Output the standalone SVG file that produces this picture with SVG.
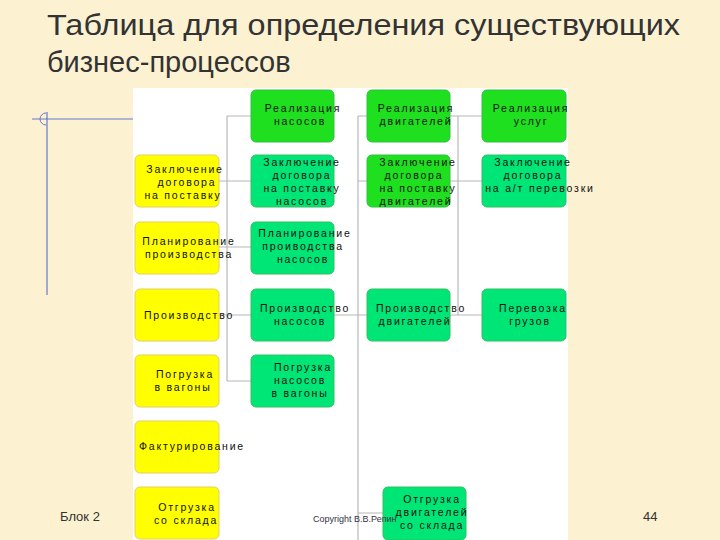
<svg xmlns="http://www.w3.org/2000/svg" width="720" height="540" viewBox="0 0 720 540">
<style>
text{font-family:"Liberation Sans",Arial,sans-serif}
.t{font-size:10.5px;letter-spacing:1.8px;fill:#111;text-anchor:middle}
.y{fill:#ffff00;stroke:#e0d060;stroke-width:1}
.g{fill:#00e676;stroke:#30c060;stroke-width:1}
.b{fill:#1ee01e;stroke:#30c040;stroke-width:1}
.c{stroke:#b8b8b8;stroke-width:1.2;fill:none}
</style>
<rect width="720" height="540" fill="#fcf2d2"/>
<text x="47" y="35" font-size="29" fill="#333" textLength="633" lengthAdjust="spacingAndGlyphs">Таблица для определения существующих</text>
<text x="47" y="72" font-size="29" fill="#333">бизнес-процессов</text>
<line x1="32" y1="119" x2="133" y2="119" stroke="#6677cc" stroke-width="1.2"/>
<line x1="47" y1="112" x2="47" y2="295" stroke="#6677cc" stroke-width="1.2"/>
<path d="M46,113 A6,6 0 0 0 46,125" fill="none" stroke="#6677cc"/>
<rect x="133" y="88" width="435" height="452" fill="#ffffff"/>
<g id="connectors" class="c">
<path d="M227,116 V381 M219,181 H251 M227,116 H251 M219,247 H251 M219,315 H251 M227,381 H251"/>
<path d="M358,116 V540 M358,116 H367 M358,181 H367 M334,315 H367 M358,513 H383"/>
<path d="M458,116 V315 M450,116 H482 M450,181 H482 M450,315 H482"/>
</g>
<g id="y1"><rect class="y" x="135" y="155" width="84" height="52" rx="5"/><text class="t" x="185" y="173">Заключение<tspan x="187" dy="13">договора</tspan><tspan x="183" dy="13">на поставку</tspan></text></g>
<g id="y2"><rect class="y" x="135" y="222" width="84" height="52" rx="5"/><text class="t" x="189" y="245">Планирование<tspan x="189" dy="13">производства</tspan></text></g>
<g id="y3"><rect class="y" x="135" y="289" width="84" height="52" rx="5"/><text class="t" x="189" y="319">Производство</text></g>
<g id="y4"><rect class="y" x="135" y="355" width="84" height="52" rx="5"/><text class="t" x="185" y="378">Погрузка<tspan x="183" dy="13">в вагоны</tspan></text></g>
<g id="y5"><rect class="y" x="135" y="421" width="84" height="52" rx="5"/><text class="t" x="192" y="450">Фактурирование</text></g>
<g id="y6"><rect class="y" x="135" y="487" width="84" height="52" rx="5"/><text class="t" x="187" y="511">Отгрузка<tspan x="186" dy="13">со склада</tspan></text></g>
<g id="g11"><rect class="b" x="251" y="90" width="83" height="52" rx="5"/><text class="t" x="303" y="112">Реализация<tspan x="300" dy="13">насосов</tspan></text></g>
<g id="g12"><rect class="b" x="367" y="90" width="83" height="52" rx="5"/><text class="t" x="416" y="112">Реализация<tspan x="416" dy="13">двигателей</tspan></text></g>
<g id="g13"><rect class="b" x="482" y="90" width="84" height="52" rx="5"/><text class="t" x="531" y="112">Реализация<tspan x="531" dy="13">услуг</tspan></text></g>
<g id="g21"><rect class="g" x="251" y="155" width="83" height="52" rx="5"/><text class="t" x="302" y="166">Заключение<tspan x="302" dy="13">договора</tspan><tspan x="302" dy="13">на поставку</tspan><tspan x="302" dy="13">насосов</tspan></text></g>
<g id="g22"><rect class="b" x="367" y="155" width="83" height="52" rx="5"/><text class="t" x="418" y="166">Заключение<tspan x="414" dy="13">договора</tspan><tspan x="418" dy="13">на поставку</tspan><tspan x="416" dy="13">двигателей</tspan></text></g>
<g id="g23"><rect class="g" x="482" y="155" width="84" height="52" rx="5"/><text class="t" x="533" y="166">Заключение<tspan x="533" dy="13">договора</tspan><tspan x="540" dy="13">на а/т перевозки</tspan></text></g>
<g id="g31"><rect class="g" x="251" y="222" width="83" height="52" rx="5"/><text class="t" x="305" y="237">Планирование<tspan x="303" dy="13">проиводства</tspan><tspan x="303" dy="13">насосов</tspan></text></g>
<g id="g41"><rect class="g" x="251" y="289" width="83" height="52" rx="5"/><text class="t" x="305" y="312">Производство<tspan x="300" dy="13">насосов</tspan></text></g>
<g id="g42"><rect class="g" x="367" y="289" width="83" height="52" rx="5"/><text class="t" x="421" y="312">Производство<tspan x="415" dy="13">двигателей</tspan></text></g>
<g id="g43"><rect class="g" x="482" y="289" width="84" height="52" rx="5"/><text class="t" x="533" y="312">Перевозка<tspan x="530" dy="13">грузов</tspan></text></g>
<g id="g51"><rect class="g" x="251" y="355" width="83" height="52" rx="5"/><text class="t" x="303" y="371">Погрузка<tspan x="300" dy="13">насосов</tspan><tspan x="300" dy="13">в вагоны</tspan></text></g>
<g id="g62"><rect class="g" x="383" y="487" width="83" height="53" rx="5"/><text class="t" x="432" y="503">Отгрузка<tspan x="432" dy="13">двигателей</tspan><tspan x="432" dy="13">со склада</tspan></text></g>
<text x="60" y="521" font-size="13" fill="#333">Блок 2</text>
<text x="313" y="522" font-size="9" fill="#334">Copyright В.В.Репин</text>
<text x="643" y="521" font-size="13" fill="#333">44</text>
</svg>
